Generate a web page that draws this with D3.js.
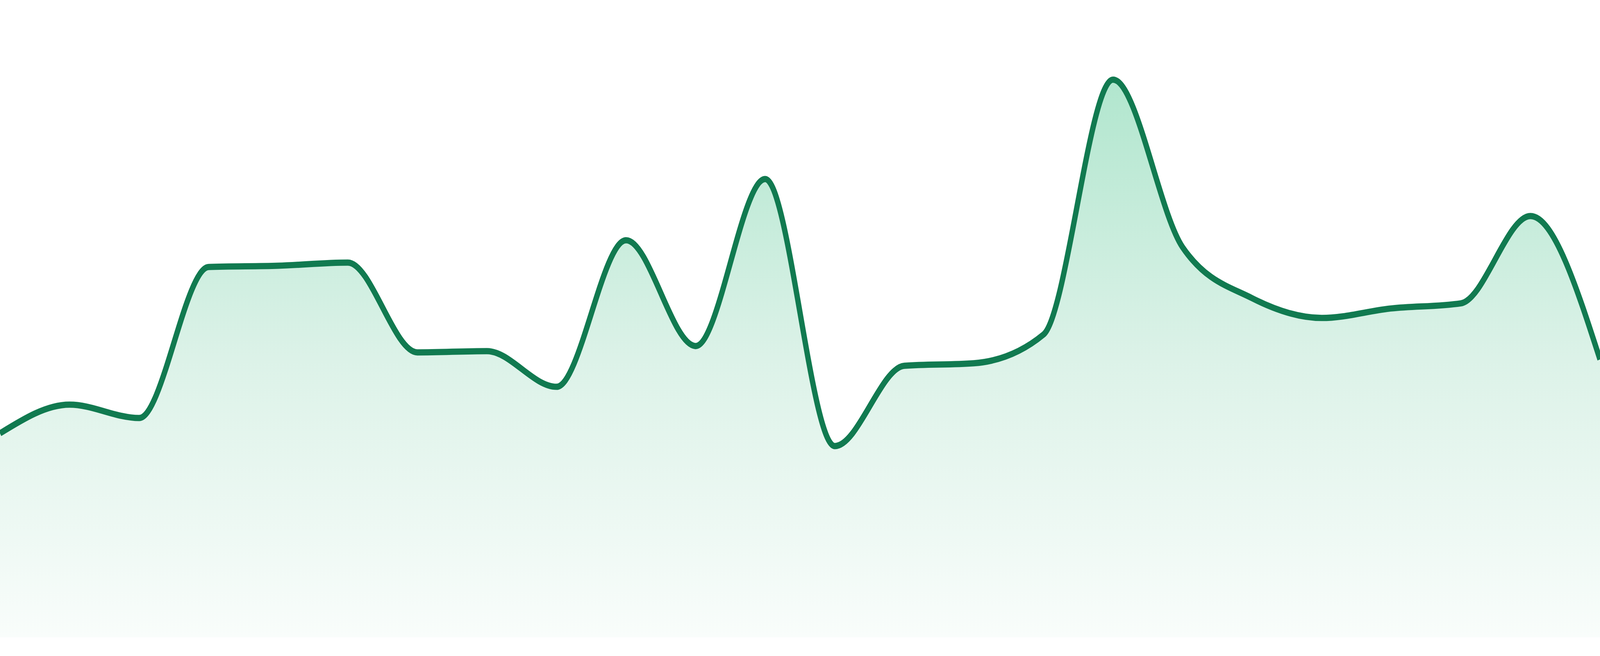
<!DOCTYPE html>
<html>
    <head>
        <meta charset="utf-8">
        <title>Area chart</title>
        <script type="text/javascript" src="https://d3js.org/d3.v7.min.js"></script>
        <style>
            html, body {
            margin: 0;
            padding: 0;
            width: 100%;
            height: 100%;
            overflow: hidden;
            background: #ffffff;
            }
            svg {
            display: block;
            width: 100vw;
            height: 100vh;
            }
        </style>
    </head>
    <body>
        <script>
            // Data (24 evenly spaced samples, index 0 to 23)
            var index = d3.range(24);
            var values = [32.0, 36.5, 34.4, 58.1, 58.3, 58.8, 44.7, 44.9, 39.3, 62.3, 45.7, 71.9,
                          30.0, 42.6, 43.0, 47.5, 87.5, 61.2, 53.2, 50.1, 51.6, 52.4, 66.1, 43.6];
            var points = [];

            // Put index and value together
            for (var i = 0; i < values.length; i++) {
            	points[i] = {
            		i: index[i],
            		v: values[i]
            	};
            }

            // Drawing space, stretched over the whole window through the viewBox
            var width = 4800;
            var height = 1680;
            var baseline = 1632;

            var svg = d3.select("body")
            	.append("svg")
            	.attr("viewBox", "0 0 " + width + " " + height)
            	.attr("preserveAspectRatio", "none");

            var x = d3.scaleLinear()
            	.domain([0, index.length - 1])
            	.range([0, width]);

            var y = d3.scaleLinear()
            	.domain([0, 100])
            	.range([baseline, 0]);

            // Vertical gradient for the fill, from mint green to almost white
            var grad = svg.append("defs")
            	.append("linearGradient")
            	.attr("id", "fillGrad")
            	.attr("x1", 0).attr("y1", 0)
            	.attr("x2", 0).attr("y2", 1);
            grad.append("stop").attr("offset", "0%").attr("stop-color", "#b1e6ce");
            grad.append("stop").attr("offset", "50%").attr("stop-color", "#dcf2e8");
            grad.append("stop").attr("offset", "100%").attr("stop-color", "#f9fdfb");

            var area = d3.area()
            	.curve(d3.curveMonotoneX)
            	.x(function(d) { return x(d.i); })
            	.y0(baseline)
            	.y1(function(d) { return y(d.v); });

            var line = d3.line()
            	.curve(d3.curveMonotoneX)
            	.x(function(d) { return x(d.i); })
            	.y(function(d) { return y(d.v); });

            svg.append("path")
            	.datum(points)
            	.attr("d", area)
            	.attr("fill", "url(#fillGrad)");

            svg.append("path")
            	.datum(points)
            	.attr("d", line)
            	.attr("fill", "none")
            	.attr("stroke", "#117a50")
            	.attr("stroke-width", 16)
            	.attr("stroke-linejoin", "round");
        </script>
    </body>
</html>
